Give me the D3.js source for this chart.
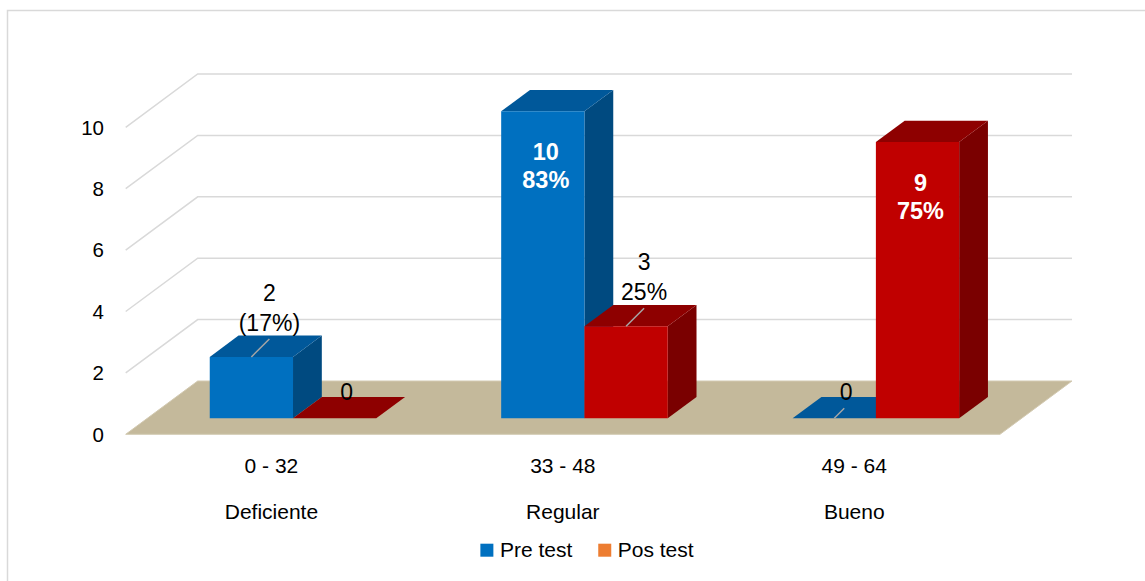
<!DOCTYPE html>
<html>
<head>
<meta charset="utf-8">
<script src="https://cdn.jsdelivr.net/npm/d3@7"></script>
<style>
  body { margin: 0; background: #fff; }
  text { font-family: "Liberation Sans", Arial, sans-serif; }
</style>
</head>
<body>
<svg id="chart" width="1145" height="581"></svg>
<script>
// data
var ranges = ["0 - 32", "33 - 48", "49 - 64"]
var levels = ["Deficiente", "Regular", "Bueno"]
var seriesNames = ["Pre test", "Pos test"]
var preTest = [2, 10, 0]
var posTest = [0, 3, 9]
var preLabels = [["2", "(17%)"], ["10", "83%"], ["0"]]
var posLabels = [["0"], ["3", "25%"], ["9", "75%"]]
var yTicks = [0, 2, 4, 6, 8, 10]

// face colours: front, top, side
var barColors = {
  "Pre test": {front: "#0070c0", top: "#00589a", side: "#004a80"},
  "Pos test": {front: "#c00000", top: "#8e0000", side: "#7a0000"}
}
var legendColors = {"Pre test": "#0070c0", "Pos test": "#ed7d31"}

var svg = d3.select("#chart")

// outer frame
svg.append("rect")
  .attr("x", 7.5).attr("y", 10.5)
  .attr("width", 1160).attr("height", 600)
  .attr("fill", "none")
  .attr("stroke", "#d9d9d9")
  .attr("stroke-width", 1.5)

// 3d projection: full depth of the floor
var DX = 72, DY = 53.3
var zFront = 0.3, zBack = 0.7

var x0 = d3.scaleBand()
  .domain(ranges)
  .range([125.7, 1000])

var x1 = d3.scaleBand()
  .domain(seriesNames)
  .range([0, x0.bandwidth()])
  .paddingInner(0)
  .paddingOuter(0.75)

var yScale = d3.scaleLinear()
  .domain([0, 10])
  .range([434.3, 127.3])

var proj = function(x, v, z) {
  return [x + z * DX, yScale(v) - z * DY]
}

var xLeft = x0.range()[0], xRight = x0.range()[1]

// gridlines: diagonal on the side wall + horizontal on the back wall
var grid = svg.append("g")
grid.selectAll("path.grid")
  .data(yTicks.filter(function(d) { return d > 0 }))
  .enter()
  .append("path")
    .attr("d", function(d) {
      var a = proj(xLeft, d, 0), b = proj(xLeft, d, 1), c = proj(xRight, d, 1)
      return "M" + a + "L" + b + "L" + c
    })
    .attr("fill", "none")
    .attr("stroke", "#d9d9d9")
    .attr("stroke-width", 1.5)

// floor
var floorPts = [proj(xLeft, 0, 0), proj(xLeft, 0, 1), proj(xRight, 0, 1), proj(xRight, 0, 0)]
svg.append("path")
  .attr("d", "M" + floorPts.join("L") + "Z")
  .attr("fill", "#c4b99b")
  .attr("stroke", "#d3cab2")
  .attr("stroke-width", 1)

// y tick labels
svg.selectAll("text.ytick")
  .data(yTicks)
  .enter()
  .append("text")
    .attr("class", "ytick")
    .attr("x", 104)
    .attr("y", function(d) { return yScale(d) })
    .attr("dy", "0.36em")
    .attr("text-anchor", "end")
    .style("font-size", "20.5px")
    .style("fill", "#000")
    .text(function(d) { return d })

// bar records, left to right
var bars = []
ranges.forEach(function(r, i) {
  bars.push({cat: r, series: "Pre test", value: preTest[i], label: preLabels[i]})
  bars.push({cat: r, series: "Pos test", value: posTest[i], label: posLabels[i]})
})

var poly = function(pts) { return "M" + pts.join("L") + "Z" }

var barG = svg.selectAll("g.bar")
  .data(bars)
  .enter()
  .append("g")
  .attr("class", "bar")

barG.each(function(d) {
  var g = d3.select(this)
  var xa = x0(d.cat) + x1(d.series)
  var xb = xa + x1.bandwidth()
  var c = barColors[d.series]
  if (d.value > 0) {
    g.append("path")
      .attr("d", poly([proj(xb, 0, zFront), proj(xb, 0, zBack), proj(xb, d.value, zBack), proj(xb, d.value, zFront)]))
      .attr("fill", c.side)
  }
  g.append("path")
    .attr("d", poly([proj(xa, d.value, zFront), proj(xa, d.value, zBack), proj(xb, d.value, zBack), proj(xb, d.value, zFront)]))
    .attr("fill", c.top)
  if (d.value > 0) {
    g.append("path")
      .attr("d", poly([proj(xa, 0, zFront), proj(xb, 0, zFront), proj(xb, d.value, zFront), proj(xa, d.value, zFront)]))
      .attr("fill", c.front)
  }
})

// data labels
barG.each(function(d) {
  var g = d3.select(this)
  var xa = x0(d.cat) + x1(d.series)
  var xm = xa + x1.bandwidth() / 2
  var ft = proj(xm, d.value, zFront)
  if (d.value >= 5) {
    // inside, white bold
    var t = g.append("text")
      .attr("text-anchor", "middle")
      .style("font-size", "23.5px")
      .style("font-weight", "bold")
      .style("fill", "#fff")
    d.label.forEach(function(line, k) {
      t.append("tspan")
        .attr("x", ft[0] + 3)
        .attr("y", ft[1] + 49 + k * 28)
        .text(line)
    })
  } else {
    var L = d.value > 0 ? 18 : 10
    var end = [ft[0] + L, ft[1] - L]
    if (d.series == "Pre test" || d.value > 0) {
      g.append("line")
        .attr("x1", ft[0]).attr("y1", ft[1])
        .attr("x2", end[0]).attr("y2", end[1])
        .attr("stroke", "#a6a6a6")
        .attr("stroke-width", 1.5)
    }
    var t2 = g.append("text")
      .attr("text-anchor", "middle")
      .style("font-size", "23px")
      .style("fill", "#000")
    var n = d.label.length
    d.label.forEach(function(line, k) {
      t2.append("tspan")
        .attr("x", end[0] + (d.value > 0 ? 0 : 2))
        .attr("y", end[1] - 8 - (n - 1 - k) * 30)
        .text(line)
    })
  }
})

// category labels
svg.selectAll("text.range")
  .data(ranges)
  .enter()
  .append("text")
    .attr("x", function(d) { return x0(d) + x0.bandwidth() / 2 })
    .attr("y", 473)
    .attr("text-anchor", "middle")
    .style("font-size", "21px")
    .text(function(d) { return d })

svg.selectAll("text.level")
  .data(levels)
  .enter()
  .append("text")
    .attr("x", function(d, i) { return x0(ranges[i]) + x0.bandwidth() / 2 })
    .attr("y", 519)
    .attr("text-anchor", "middle")
    .style("font-size", "21px")
    .text(function(d) { return d })

// legend
var legend = svg.append("g")
var lx = 0
seriesNames.forEach(function(s, i) {
  var item = legend.append("g").attr("transform", "translate(" + lx + ",0)")
  item.append("rect")
    .attr("x", 0).attr("y", -13)
    .attr("width", 13).attr("height", 13)
    .attr("fill", legendColors[s])
  var tx = item.append("text")
    .attr("x", 19.5).attr("y", 0)
    .style("font-size", "21px")
    .text(s)
  lx += 19.5 + tx.node().getComputedTextLength() + 26
})
var legendW = lx - 26
legend.attr("transform", "translate(" + (587 - legendW / 2) + ",556.7)")
</script>
</body>
</html>
